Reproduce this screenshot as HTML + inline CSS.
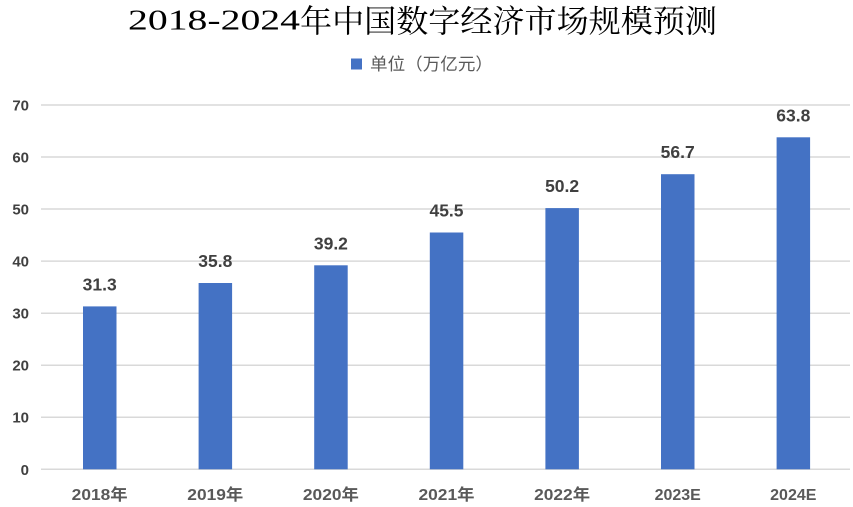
<!DOCTYPE html>
<html>
<head>
<meta charset="utf-8">
<style>
html,body{margin:0;padding:0;background:#fff;}
svg{display:block;}
</style>
</head>
<body>
<svg width="853" height="507" viewBox="0 0 853 507" xmlns="http://www.w3.org/2000/svg">
<rect width="853" height="507" fill="#fff"/>
<!-- Title -->
<text x="128" y="29.5" font-family="Liberation Serif, serif" font-size="29" fill="#000" textLength="172" lengthAdjust="spacingAndGlyphs">2018-2024</text>
<text x="300" y="32" font-family="Noto Serif CJK SC, serif" font-size="31.5" fill="#000" textLength="417" lengthAdjust="spacingAndGlyphs">年中国数字经济市场规模预测</text>
<!-- Legend -->
<rect x="351" y="58.5" width="11" height="11" fill="#4472C4"/>
<text x="370" y="70" font-family="Liberation Sans, Noto Sans CJK SC, sans-serif" font-size="17" fill="#595959" textLength="123" lengthAdjust="spacingAndGlyphs">单位（万亿元）</text>
<!-- Gridlines -->
<g stroke="#d9d9d9" stroke-width="1.5">
<line x1="41" x2="850" y1="105" y2="105"/>
<line x1="41" x2="850" y1="157" y2="157"/>
<line x1="41" x2="850" y1="209" y2="209"/>
<line x1="41" x2="850" y1="261.1" y2="261.1"/>
<line x1="41" x2="850" y1="313.2" y2="313.2"/>
<line x1="41" x2="850" y1="365.2" y2="365.2"/>
<line x1="41" x2="850" y1="417.2" y2="417.2"/>
<line x1="41" x2="850" y1="469.3" y2="469.3"/>
</g>
<!-- Y labels -->
<g font-family="Liberation Sans, sans-serif" font-size="15" font-weight="bold" fill="#404040" text-anchor="end">
<text x="29" y="110.5">70</text>
<text x="29" y="162.5">60</text>
<text x="29" y="214.5">50</text>
<text x="29" y="266.6">40</text>
<text x="29" y="318.7">30</text>
<text x="29" y="370.7">20</text>
<text x="29" y="422.7">10</text>
<text x="29" y="474.8">0</text>
</g>
<!-- Bars -->
<g fill="#4472C4">
<rect x="83" y="306.4" width="33.5" height="162.9"/>
<rect x="198.6" y="283.0" width="33.5" height="186.3"/>
<rect x="314.2" y="265.3" width="33.5" height="204.0"/>
<rect x="429.8" y="232.5" width="33.5" height="236.8"/>
<rect x="545.4" y="208.1" width="33.5" height="261.2"/>
<rect x="661" y="174.2" width="33.5" height="295.1"/>
<rect x="776.6" y="137.3" width="33.5" height="332.0"/>
</g>
<!-- Value labels -->
<g font-family="Liberation Sans, sans-serif" font-size="17.5" font-weight="bold" fill="#404040" text-anchor="middle">
<text x="99.7" y="290.4">31.3</text>
<text x="215.3" y="267">35.8</text>
<text x="330.9" y="249.3">39.2</text>
<text x="446.5" y="216.5">45.5</text>
<text x="562.1" y="192.1">50.2</text>
<text x="677.7" y="158.2">56.7</text>
<text x="793.3" y="121.3">63.8</text>
</g>
<!-- X labels -->
<g font-family="Liberation Sans, Noto Sans CJK SC, sans-serif" font-size="16" font-weight="bold" fill="#595959" text-anchor="middle">
<text x="99.7" y="500" textLength="56" lengthAdjust="spacingAndGlyphs">2018年</text>
<text x="215.3" y="500" textLength="56" lengthAdjust="spacingAndGlyphs">2019年</text>
<text x="330.9" y="500" textLength="56" lengthAdjust="spacingAndGlyphs">2020年</text>
<text x="446.5" y="500" textLength="56" lengthAdjust="spacingAndGlyphs">2021年</text>
<text x="562.1" y="500" textLength="56" lengthAdjust="spacingAndGlyphs">2022年</text>
<text x="677.7" y="500">2023E</text>
<text x="793.3" y="500">2024E</text>
</g>
</svg>
</body>
</html>
